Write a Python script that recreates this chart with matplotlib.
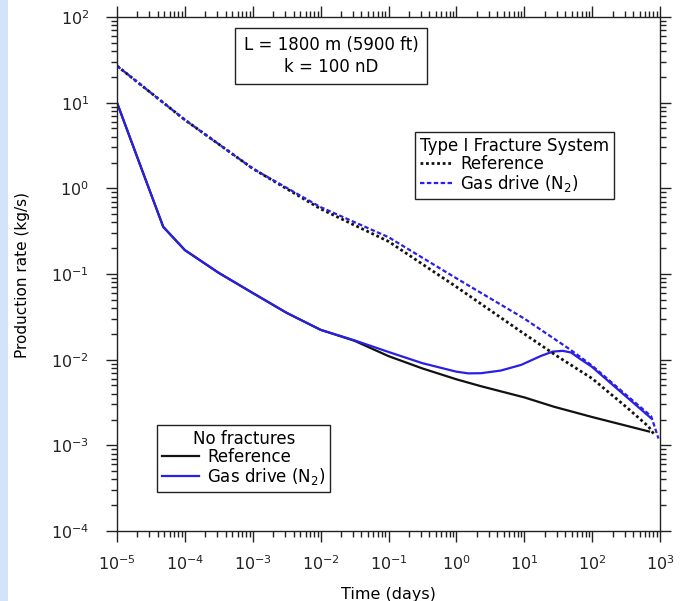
import matplotlib
matplotlib.use("Agg")
import matplotlib.pyplot as plt
from matplotlib.patches import Rectangle
from matplotlib.lines import Line2D
from matplotlib.ticker import LogFormatterMathtext, NullFormatter, FixedLocator

# ---- data (time in days, production rate in kg/s) ----
# No fractures - Reference
t_nf_ref = [1e-5, 2.24e-5, 4.8e-5, 1e-4, 3.16e-4, 1e-3, 3.16e-3, 1e-2, 3.16e-2,
            0.1, 0.316, 1.0, 2.3, 10, 27.5, 100, 690]
q_nf_ref = [10.0, 1.79, 0.355, 0.19, 0.103, 0.060, 0.0352, 0.0223, 0.0166,
            0.0110, 0.0079, 0.0059, 0.0049, 0.00363, 0.00282, 0.00214, 0.00145]

# No fractures - Gas drive (N2)
t_nf_gas = [1e-5, 2.24e-5, 4.8e-5, 1e-4, 3.16e-4, 1e-3, 3.16e-3, 1e-2, 3.16e-2,
            0.1, 0.316, 1.0, 1.5, 2.3, 4.5, 9, 17.7, 26.3, 37, 49, 69, 98, 740]
q_nf_gas = [10.0, 1.79, 0.355, 0.19, 0.103, 0.060, 0.0352, 0.0223, 0.0168,
            0.0123, 0.0091, 0.00724, 0.00692, 0.00695, 0.00746, 0.00869, 0.01107,
            0.01242, 0.01268, 0.01211, 0.0100, 0.00832, 0.00207]

# Type I fracture system - Reference
t_fr_ref = [1e-5, 1e-4, 1e-3, 1e-2, 0.1, 1.0, 10, 31.6, 100, 316, 676, 830]
q_fr_ref = [26.9, 6.3, 1.70, 0.575, 0.240, 0.0708, 0.0200, 0.0108, 0.00603,
            0.00282, 0.00166, 0.00132]

# Type I fracture system - Gas drive (N2)
t_fr_gas = [1e-5, 1e-4, 1e-3, 1e-2, 0.1, 1.0, 10, 49, 100, 316, 740, 950]
q_fr_gas = [26.9, 6.3, 1.70, 0.603, 0.269, 0.0891, 0.0302, 0.0129, 0.00851,
            0.00389, 0.00219, 0.00120]

x_decades = [-5, -4, -3, -2, -1, 0, 1, 2, 3]
y_decades = [-4, -3, -2, -1, 0, 1, 2]

BLUE = "#2a1fe6"
BLACK = "#111111"

W, H = 696, 601
fig = plt.figure(figsize=(W / 100, H / 100), dpi=100)
fig.patches.append(Rectangle((0, 0), 8 / W, 1, transform=fig.transFigure,
                             facecolor="#d3e3f8", edgecolor="none", zorder=0))

L, R, B, T = 117, 660, 531, 17
ax = fig.add_axes([L / W, 1 - B / H, (R - L) / W, (B - T) / H])

ax.plot(t_nf_ref, q_nf_ref, color=BLACK, lw=1.6, solid_joinstyle="round")
ax.plot(t_nf_gas, q_nf_gas, color=BLUE, lw=1.6, solid_joinstyle="round")
ax.plot(t_fr_ref, q_fr_ref, color=BLACK, lw=2.0, linestyle=(0, (1.0, 1.0)))
ax.plot(t_fr_gas, q_fr_gas, color=BLUE, lw=1.6, linestyle=(0, (2.0, 1.1)))

ax.set_xscale("log")
ax.set_yscale("log")
ax.set_xlim(1e-5, 1e3)
ax.set_ylim(1e-4, 1e2)

x_major = [10.0 ** d for d in x_decades]
y_major = [10.0 ** d for d in y_decades]
x_minor = [m * 10.0 ** d for d in x_decades[:-1] for m in range(2, 10)]
y_minor = [m * 10.0 ** d for d in y_decades[:-1] for m in range(2, 10)]
ax.xaxis.set_major_locator(FixedLocator(x_major))
ax.yaxis.set_major_locator(FixedLocator(y_major))
ax.xaxis.set_minor_locator(FixedLocator(x_minor))
ax.yaxis.set_minor_locator(FixedLocator(y_minor))
ax.xaxis.set_major_formatter(LogFormatterMathtext())
ax.yaxis.set_major_formatter(LogFormatterMathtext())
ax.xaxis.set_minor_formatter(NullFormatter())
ax.yaxis.set_minor_formatter(NullFormatter())

ax.tick_params(which="both", direction="out", top=True, right=True,
               labeltop=False, labelright=False, width=1, colors="#222222")
ax.tick_params(which="major", length=8, labelsize=11.5)
ax.tick_params(axis="x", which="major", pad=9)
ax.tick_params(axis="y", which="major", pad=12)
ax.tick_params(which="minor", length=4)
for s in ax.spines.values():
    s.set_linewidth(1)
    s.set_color("#222222")

ax.set_xlabel("Time (days)", fontsize=11.5, labelpad=10)
fig.text(22 / W, 1 - 275 / H, "Production rate (kg/s)", rotation=90,
         ha="center", va="center", fontsize=11)

fig.text(331 / W, 1 - 56 / H, "L = 1800 m (5900 ft)\nk = 100 nD", ha="center",
         va="center", fontsize=12, linespacing=1.3,
         bbox=dict(boxstyle="square,pad=0.5", facecolor="white",
                   edgecolor="#222222", linewidth=1))

h1 = [Line2D([], [], color=BLACK, lw=2.0, linestyle=(0, (1.0, 1.0))),
      Line2D([], [], color=BLUE, lw=1.6, linestyle=(0, (2.0, 1.1)))]
leg1 = ax.legend(h1, ["Reference", "Gas drive (N$_2$)"], title="Type I Fracture System",
                 loc="upper left", bbox_to_anchor=(415 / W, 1 - 132 / H),
                 bbox_transform=fig.transFigure, borderaxespad=0,
                 fontsize=12, title_fontsize=12, frameon=True, fancybox=False,
                 handlelength=1.9, handletextpad=0.5, labelspacing=0.0,
                 borderpad=0.3, edgecolor="#222222", framealpha=1,
                 alignment="left")
leg1.get_frame().set_linewidth(1)
ax.add_artist(leg1)

h2 = [Line2D([], [], color=BLACK, lw=1.6), Line2D([], [], color=BLUE, lw=1.6)]
leg2 = ax.legend(h2, ["Reference", "Gas drive (N$_2$)"], title="No fractures",
                 loc="upper left", bbox_to_anchor=(157 / W, 1 - 425 / H),
                 bbox_transform=fig.transFigure, borderaxespad=0,
                 fontsize=12, title_fontsize=12, frameon=True, fancybox=False,
                 handlelength=2.2, handletextpad=0.5, labelspacing=0.0,
                 borderpad=0.3, edgecolor="#222222", framealpha=1)
leg2.get_frame().set_linewidth(1)

fig.savefig("out.png", dpi=100)
